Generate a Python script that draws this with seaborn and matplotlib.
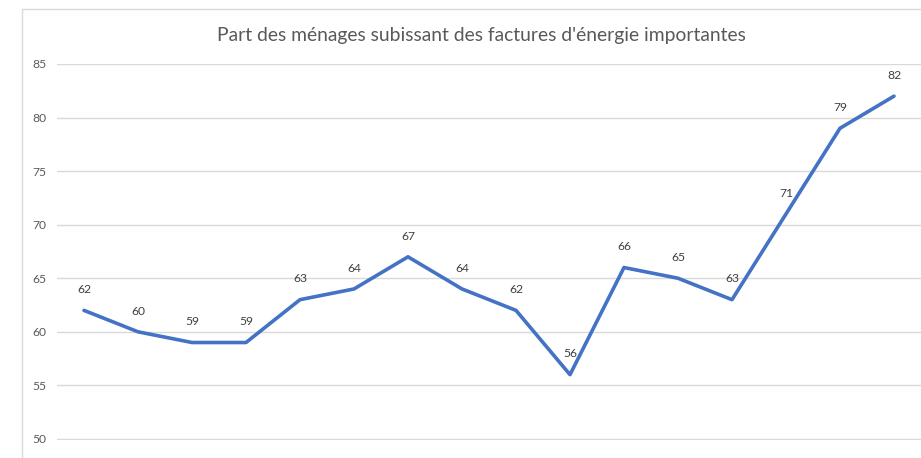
import pandas as pd
import matplotlib.pyplot as plt
import seaborn as sns
from matplotlib.patches import Rectangle

# Data
points = list(range(1, 17))
values = [62, 60, 59, 59, 63, 64, 67, 64, 62, 56, 66, 65, 63, 71, 79, 82]
y_ticks = [50, 55, 60, 65, 70, 75, 80, 85]
title = "Part des ménages subissant des factures d'énergie importantes"

df = pd.DataFrame({'point': points, 'value': values})

sns.set_style('white')
plt.rcParams['font.family'] = ['Lato', 'DejaVu Sans']

fig = plt.figure(figsize=(9.21, 4.58), dpi=100)
ax = fig.add_axes([57 / 921, (458 - 440) / 458, 864 / 921, 376 / 458])

sns.lineplot(data=df, x='point', y='value', ax=ax, color='#4472C4',
             linewidth=2.6, solid_capstyle='round', solid_joinstyle='round')

for x, y in zip(df['point'], df['value']):
    ax.annotate(str(y), (x, y), xytext=(0, 11), textcoords='offset points',
                ha='center', va='bottom', fontsize=8.7, color='#404040')

ax.set_xlim(0.5, 16.5)
ax.set_ylim(49.9, 85)
ax.set_yticks(y_ticks)
ax.set_xticks([])
ax.set_xlabel('')
ax.set_ylabel('')
ax.yaxis.grid(True, color='#d9d9d9', linewidth=1)
ax.set_axisbelow(True)
for s in ax.spines.values():
    s.set_visible(False)
ax.tick_params(axis='y', length=0, pad=18, labelsize=8.7, labelcolor='#595959')
for lbl in ax.get_yticklabels():
    lbl.set_horizontalalignment('left')

# chart area border
fig.patches.append(Rectangle((22 / 921, -0.1), 1.0, 1.1 - 9 / 458,
                             transform=fig.transFigure, fill=False,
                             edgecolor='#d9d9d9', linewidth=1))

fig.text(481 / 921, 1 - 35 / 458, title, ha='center', va='center',
         fontsize=13.9, color='#595959')

fig.savefig('out.png', dpi=100)
